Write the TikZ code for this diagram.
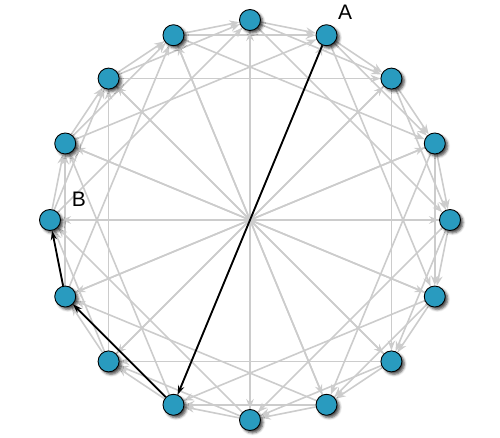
\documentclass[tikz,border=0pt]{standalone}
\usepackage{fontspec}
\setmainfont{Liberation Sans}
\usetikzlibrary{arrows.meta,shadows.blur,backgrounds}
\definecolor{peerblue}{RGB}{41,155,191}
\definecolor{edgegray}{RGB}{204,204,204}
\tikzset{
  peer/.style={circle,minimum size=21pt,inner sep=0pt,fill=peerblue,draw=black,line width=0.9pt,
    blur shadow={shadow xshift=2.5pt,shadow yshift=-2.5pt,shadow blur radius=2.5pt,shadow opacity=70}},
  gedge/.style={draw=edgegray,line width=1.6pt,-{Stealth[length=10pt,width=7.5pt]}},
  bedge/.style={draw=black,line width=1.8pt,-{Stealth[length=9pt,width=6pt]}},
  lbl/.style={font=\fontsize{21}{25}\selectfont,inner sep=0pt}
}
\begin{document}
\begin{tikzpicture}[x=1pt,y=-1pt]
\useasboundingbox (0,0) rectangle (500,438);
\foreach \k in {0,...,15}{
  \node[peer] (n\k) at ({250+200*sin(22.5*\k)},{220-200*cos(22.5*\k)}) {};
}
\begin{scope}[on background layer]
\foreach \k in {0,...,15}{
  \foreach \d in {1,2,4,8}{
    \pgfmathtruncatemacro\t{mod(\k+\d,16)}
    \draw[gedge] (n\k) -- (n\t);
  }
}
\end{scope}
\draw[bedge] (n1) -- (n9);
\draw[bedge] (n9) -- (n11);
\draw[bedge] (n11) -- (n12);
\node[lbl] (la) at (345,12) {A};
\node[lbl] (lb) at (79,199) {B};
\end{tikzpicture}
\end{document}
